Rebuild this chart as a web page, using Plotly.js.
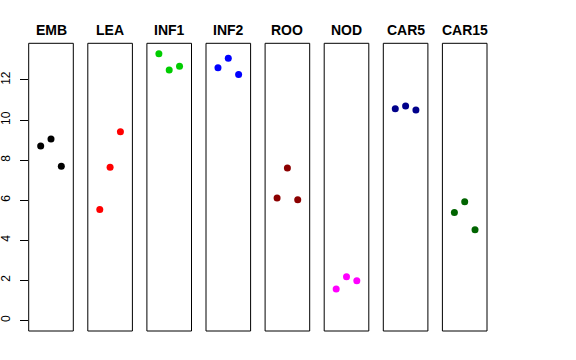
<!DOCTYPE html>
<html><head><meta charset="utf-8">
<script src="https://cdn.plot.ly/plotly-3.0.1.min.js"></script>
<style>html,body{margin:0;padding:0;background:#fff}#chart{width:576px;height:360px}</style>
</head><body><div id="chart"></div>
<script>
const groups = ["EMB","LEA","INF1","INF2","ROO","NOD","CAR5","CAR15"];
const colors = ["#000000","#FF0000","#00CD00","#0000FF","#8B0000","#FF00FF","#00008B","#006400"];
const replicate = [1,2,3];
const EMB   = [8.70, 9.05, 7.69];
const LEA   = [5.54, 7.64, 9.42];
const INF1  = [13.31, 12.50, 12.68];
const INF2  = [12.61, 13.08, 12.28];
const ROO   = [6.11, 7.60, 6.02];
const NOD   = [1.56, 2.18, 1.98];
const CAR5  = [10.56, 10.70, 10.50];
const CAR15 = [5.39, 5.92, 4.52];
const yTicks = [0,2,4,6,8,10,12];
const values = [EMB, LEA, INF1, INF2, ROO, NOD, CAR5, CAR15];

const W = 576, H = 360;
const left0 = 28.7, step = 59.1, pw = 44.6;
const yTop = 43.3, yBot = 331;
const ydom = [(H - yBot)/H, (H - yTop)/H];

const traces = [];
const layout = {
  width: W, height: H,
  margin: {l:0, r:0, t:0, b:0},
  paper_bgcolor: "#fff", plot_bgcolor: "#fff",
  showlegend: false,
  font: {family: "Liberation Sans, Arial, sans-serif", color: "#000"},
  shapes: [], annotations: []
};
layout.yaxis = {
  domain: ydom, range: [-0.532, 13.832], anchor: "x",
  tickvals: yTicks, ticktext: yTicks.map(String),
  ticks: "outside", ticklen: 8, tickwidth: 1, tickcolor: "#000",
  tickangle: -90, ticklabelstandoff: 5,
  tickfont: {size: 12, color: "#000"},
  showgrid: false, zeroline: false, showline: false
};
groups.forEach((g, i) => {
  const xn = i === 0 ? "x" : "x" + (i + 1);
  const axName = i === 0 ? "xaxis" : "xaxis" + (i + 1);
  const l = left0 + step * i;
  layout[axName] = {
    domain: [l / W, (l + pw) / W], range: [-0.16, 4.16], anchor: "y",
    showgrid: false, zeroline: false, showline: false, showticklabels: false, ticks: ""
  };
  traces.push({
    type: "scatter", mode: "markers", x: replicate, y: values[i],
    xaxis: xn, yaxis: "y",
    marker: {color: colors[i], size: 7},
    hoverinfo: "skip", cliponaxis: false
  });
  layout.shapes.push({
    type: "rect", xref: xn + " domain", yref: "y domain",
    x0: 0, x1: 1, y0: 0, y1: 1,
    line: {color: "#000", width: 1}, fillcolor: "rgba(0,0,0,0)"
  });
  layout.annotations.push({
    text: "<b>" + g + "</b>", xref: xn + " domain", yref: "paper",
    x: 0.5, y: (H - 29.5) / H, xanchor: "center", yanchor: "middle",
    showarrow: false, font: {size: 14, color: "#000"}
  });
});
Plotly.newPlot("chart", traces, layout, {staticPlot: true, displayModeBar: false});
</script>
</body></html>
